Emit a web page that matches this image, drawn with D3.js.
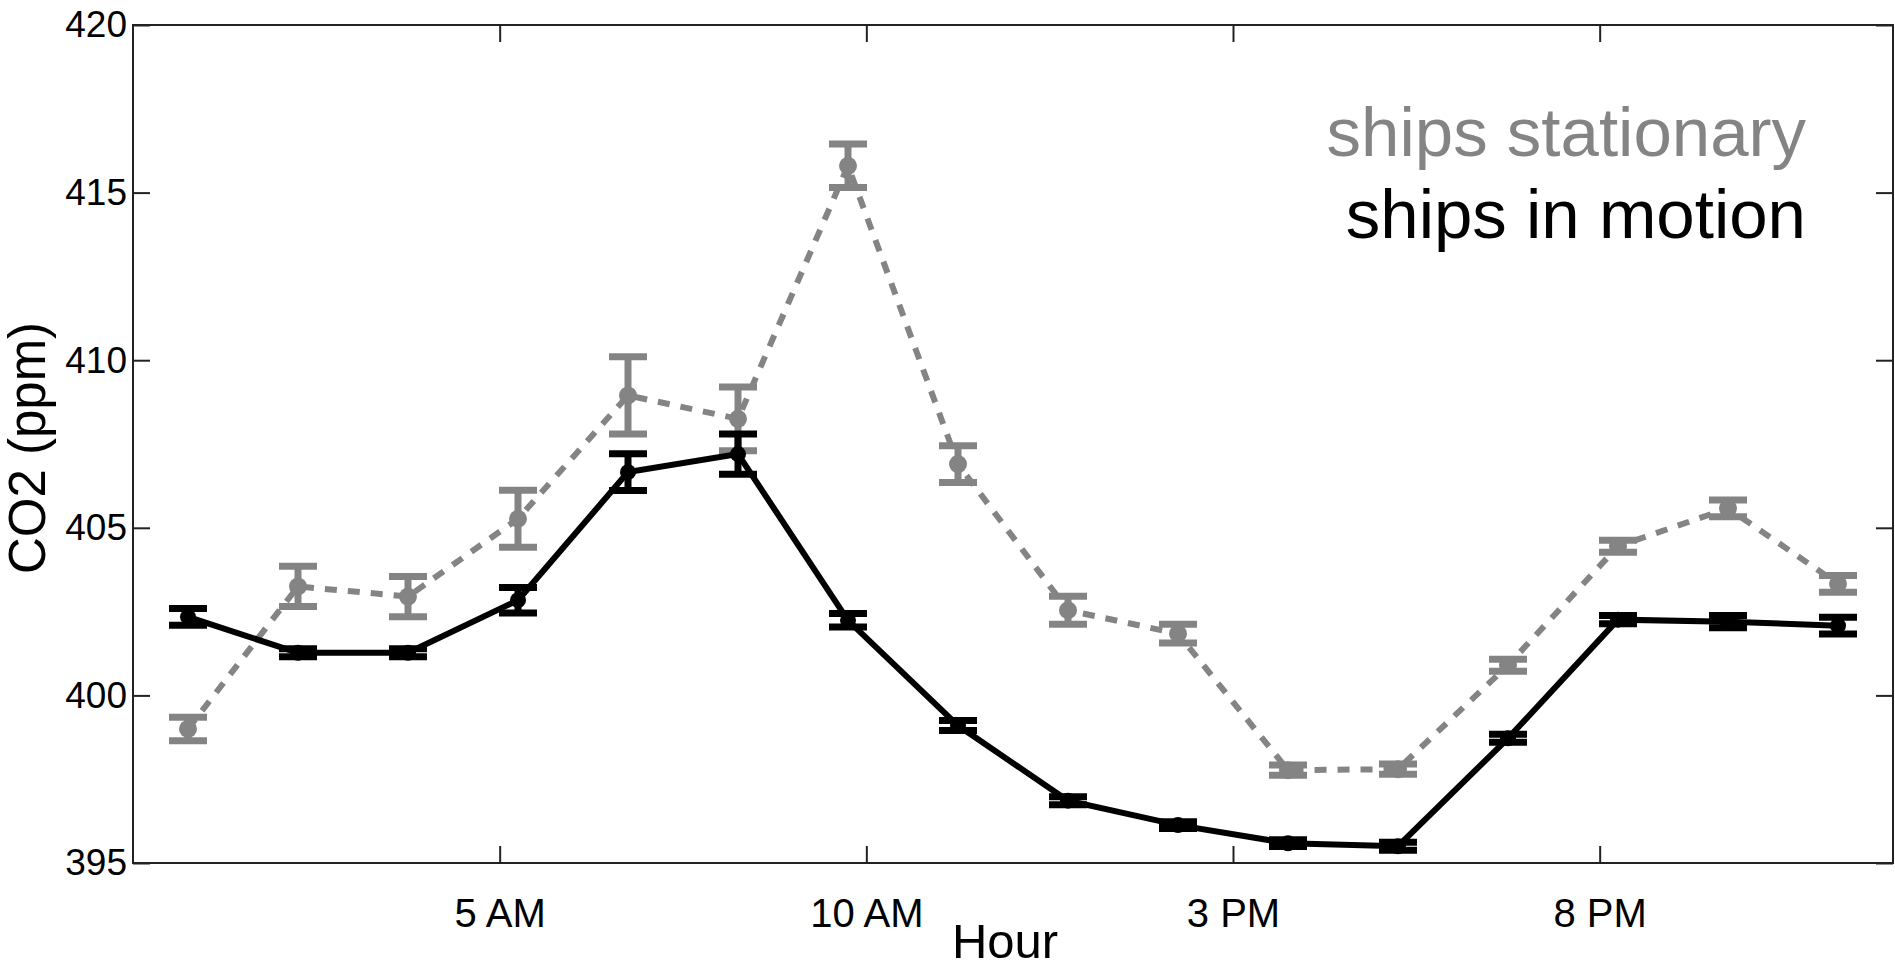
<!DOCTYPE html>
<html>
<head>
<meta charset="utf-8">
<script src="https://cdn.jsdelivr.net/npm/d3@7"></script>
<style>
  body { margin: 0; background: #fff; }
  svg { display: block; font-family: "Liberation Sans", Arial, sans-serif; }
  .axis text { fill: #000; }
  .axis line { stroke: #222; stroke-width: 2; }
</style>
</head>
<body>
<svg id="chart" width="1895" height="971"></svg>
<script>
// CO2 by hour of day, ships stationary vs in motion

const hours = [0.75, 2.25, 3.75, 5.25, 6.75, 8.25, 9.75, 11.25, 12.75, 14.25, 15.75, 17.25, 18.75, 20.25, 21.75, 23.25];
const stationary = [399.0, 403.25, 402.95, 405.27, 408.95, 408.25, 415.8, 406.9, 402.54, 401.84, 397.77, 397.8, 400.9, 404.45, 405.58, 403.33];
const stationaryErr = [0.35, 0.6, 0.6, 0.85, 1.15, 0.95, 0.65, 0.55, 0.42, 0.28, 0.15, 0.15, 0.18, 0.18, 0.25, 0.25];
const motion = [402.34, 401.27, 401.27, 402.84, 406.66, 407.2, 402.24, 399.1, 396.86, 396.13, 395.59, 395.5, 398.72, 402.26, 402.2, 402.08];
const motionErr = [0.25, 0.12, 0.12, 0.38, 0.55, 0.6, 0.2, 0.15, 0.12, 0.1, 0.1, 0.12, 0.12, 0.12, 0.18, 0.25];

const xTicks = [5, 10, 15, 20];
const xTickLabels = ['5 AM', '10 AM', '3 PM', '8 PM'];
const yTicks = [395, 400, 405, 410, 415, 420];

const svg = d3.select('#chart');
const margin = { top: 25, right: 2, bottom: 108, left: 133 };
const width = 1895;
const height = 971;

const x = d3.scaleLinear().domain([0, 24]).range([margin.left, width - margin.right]);
const y = d3.scaleLinear().domain([395, 420]).range([height - margin.bottom, margin.top]);

const tick = 17;

// axes with inward ticks on all four sides
svg.append('g')
  .attr('class', 'axis')
  .attr('transform', `translate(0,${y(395)})`)
  .call(d3.axisBottom(x).tickValues(xTicks).tickFormat((d, i) => xTickLabels[i])
    .tickSizeInner(-tick).tickSizeOuter(0).tickPadding(36))
  .call(g => g.select('.domain').remove())
  .selectAll('text').attr('font-size', 40);

svg.append('g')
  .attr('class', 'axis')
  .attr('transform', `translate(0,${y(420)})`)
  .call(d3.axisTop(x).tickValues(xTicks).tickFormat('').tickSizeInner(-tick).tickSizeOuter(0))
  .call(g => g.select('.domain').remove());

svg.append('g')
  .attr('class', 'axis')
  .attr('transform', `translate(${x(0)},0)`)
  .call(d3.axisLeft(y).tickValues(yTicks).tickFormat(d3.format('d'))
    .tickSizeInner(-tick).tickSizeOuter(0).tickPadding(6))
  .call(g => g.select('.domain').remove())
  .selectAll('text').attr('font-size', 37);

svg.append('g')
  .attr('class', 'axis')
  .attr('transform', `translate(${x(24)},0)`)
  .call(d3.axisRight(y).tickValues(yTicks).tickFormat('').tickSizeInner(-tick).tickSizeOuter(0))
  .call(g => g.select('.domain').remove());

// box
svg.append('rect')
  .attr('x', x(0)).attr('y', y(420))
  .attr('width', x(24) - x(0)).attr('height', y(395) - y(420))
  .attr('fill', 'none').attr('stroke', '#222').attr('stroke-width', 2);

// axis titles
svg.append('text')
  .attr('x', (x(0) + x(24)) / 2 - 8).attr('y', 958)
  .attr('text-anchor', 'middle').attr('font-size', 49)
  .text('Hour');

svg.append('text')
  .attr('transform', `translate(45,${(y(395) + y(420)) / 2 + 4}) rotate(-90)`)
  .attr('text-anchor', 'middle').attr('font-size', 51)
  .text('CO2 (ppm)');

function drawSeries(values, errs, color, dash, r) {
  const data = hours.map((h, i) => ({ h, v: values[i], e: errs[i] }));
  const g = svg.append('g');

  g.append('path')
    .datum(data)
    .attr('fill', 'none')
    .attr('stroke', color)
    .attr('stroke-width', 6)
    .attr('stroke-dasharray', dash)
    .attr('d', d3.line().x(d => x(d.h)).y(d => y(d.v)));

  const capW = 19;
  const bars = g.selectAll('.err').data(data).enter().append('g');
  bars.append('line')
    .attr('x1', d => x(d.h)).attr('x2', d => x(d.h))
    .attr('y1', d => y(d.v - d.e)).attr('y2', d => y(d.v + d.e))
    .attr('stroke', color).attr('stroke-width', 7);
  bars.append('line')
    .attr('x1', d => x(d.h) - capW).attr('x2', d => x(d.h) + capW)
    .attr('y1', d => y(d.v + d.e)).attr('y2', d => y(d.v + d.e))
    .attr('stroke', color).attr('stroke-width', 7);
  bars.append('line')
    .attr('x1', d => x(d.h) - capW).attr('x2', d => x(d.h) + capW)
    .attr('y1', d => y(d.v - d.e)).attr('y2', d => y(d.v - d.e))
    .attr('stroke', color).attr('stroke-width', 7);

  g.selectAll('.dot').data(data).enter().append('circle')
    .attr('cx', d => x(d.h)).attr('cy', d => y(d.v))
    .attr('r', r).attr('fill', color);
}

drawSeries(stationary, stationaryErr, '#848484', '12,11', 9);
drawSeries(motion, motionErr, '#000', null, 8);

// legend text
svg.append('text')
  .attr('x', 1806).attr('y', 156)
  .attr('text-anchor', 'end').attr('font-size', 69).attr('fill', '#848484')
  .text('ships stationary');
svg.append('text')
  .attr('x', 1806).attr('y', 238)
  .attr('text-anchor', 'end').attr('font-size', 69).attr('fill', '#000')
  .text('ships in motion');
</script>
</body>
</html>
